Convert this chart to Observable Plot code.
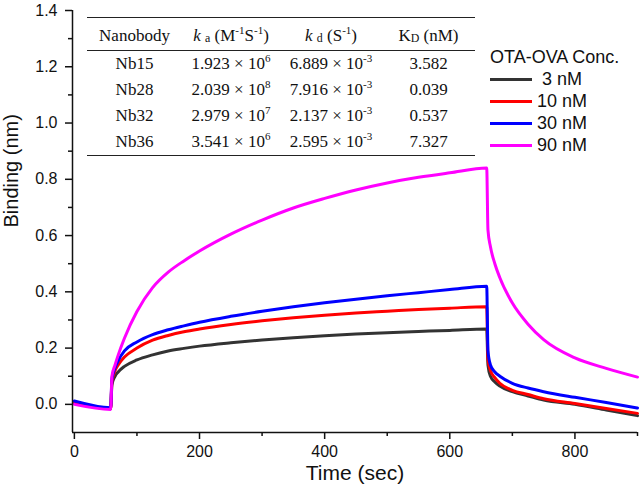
<!DOCTYPE html>
<html><head><meta charset="utf-8">
<script src="https://cdn.jsdelivr.net/npm/d3@7"></script>
<script src="https://cdn.jsdelivr.net/npm/@observablehq/plot@0.6"></script>
<style>
body{margin:0;background:#fff;}
#wrap{position:relative;width:641px;height:490px;font-family:"Liberation Sans",Arial,sans-serif;}
#tbl{position:absolute;left:87px;top:17px;width:388px;border-collapse:collapse;font-family:"Liberation Serif","Times New Roman",serif;font-size:17px;color:#111;table-layout:fixed;}
#tbl th,#tbl td{padding:0;text-align:center;font-weight:normal;white-space:nowrap;}
#tbl thead tr{height:33px;border-top:1.5px solid #222;border-bottom:1.5px solid #222;}
#tbl thead th{padding-top:3px;}
#tbl tbody tr{height:26.25px;}
#tbl tbody tr:last-child{border-bottom:1.5px solid #222;}
#tbl sup{font-size:0.65em;vertical-align:0.6em;line-height:0;}
#tbl sub{font-size:0.7em;vertical-align:-0.1em;line-height:0;}
#legend{position:absolute;left:490px;top:46px;font-size:18px;color:#111;line-height:22px;}
#legend .row{display:flex;align-items:center;height:22px;}
#legend .sw{width:42px;height:3px;margin-right:5px;}
#legend .lab{white-space:pre;}
</style>
</head><body>
<div id="wrap"></div>
<script>
// ---- data ----
const time = [0, 58, 60, 65, 70, 80, 100, 125, 150, 175, 200, 250, 300, 350, 400, 450, 500, 550, 600, 659, 661, 665, 672, 680, 700, 725, 750, 800, 850, 900];
const bind3  = [0.005, -0.015, 0.07, 0.10, 0.115, 0.135, 0.158, 0.176, 0.19, 0.199, 0.207, 0.219, 0.229, 0.237, 0.244, 0.25, 0.255, 0.259, 0.263, 0.268, 0.14, 0.10, 0.08, 0.065, 0.045, 0.03, 0.015, 0.0, -0.02, -0.04];
const bind10 = [0.008, -0.015, 0.08, 0.12, 0.14, 0.168, 0.20, 0.228, 0.245, 0.258, 0.268, 0.284, 0.297, 0.308, 0.317, 0.325, 0.331, 0.337, 0.342, 0.347, 0.16, 0.12, 0.095, 0.075, 0.05, 0.035, 0.02, 0.003, -0.015, -0.032];
const bind30 = [0.012, -0.012, 0.09, 0.13, 0.155, 0.19, 0.222, 0.248, 0.265, 0.279, 0.292, 0.313, 0.331, 0.347, 0.361, 0.374, 0.386, 0.397, 0.408, 0.42, 0.19, 0.14, 0.115, 0.10, 0.075, 0.058, 0.045, 0.025, 0.007, -0.013];
const bind90 = [0.0, -0.018, 0.10, 0.14, 0.175, 0.235, 0.33, 0.415, 0.47, 0.51, 0.545, 0.605, 0.655, 0.698, 0.732, 0.762, 0.787, 0.807, 0.823, 0.84, 0.62, 0.56, 0.50, 0.45, 0.36, 0.285, 0.23, 0.165, 0.128, 0.097];
const conc = ["3 nM", "10 nM", "30 nM", "90 nM"];
const legendTitle = "OTA-OVA Conc.";
const xMajor = [0, 200, 400, 600, 800];
const xMinor = [100, 300, 500, 700, 900];
const yMajor = [0, 0.2, 0.4, 0.6, 0.8, 1.0, 1.2, 1.4];
const yMinor = [0.1, 0.3, 0.5, 0.7, 0.9, 1.1, 1.3];
const nanobody = ["Nb15", "Nb28", "Nb32", "Nb36"];
const kaMant = ["1.923", "2.039", "2.979", "3.541"];
const kaExp = ["6", "8", "7", "6"];
const kdMant = ["6.889", "7.916", "2.137", "2.595"];
const kdExp = ["-3", "-3", "-3", "-3"];
const KD = ["3.582", "0.039", "0.537", "7.327"];

const colors = ["#333333", "#ff0000", "#0000ff", "#ff00ff"];
const series = [bind3, bind10, bind30, bind90];
const rows = conc.flatMap((c, i) => time.map((t, j) => ({t, v: series[i][j], c})));

const font = '"Liberation Sans", Arial, sans-serif';
const chart = Plot.plot({
  width: 641, height: 490,
  marginLeft: 72, marginRight: 4, marginTop: 10, marginBottom: 58,
  x: {domain: [-3, 900], axis: null, label: null},
  y: {domain: [-0.1, 1.4], axis: null, label: null},
  color: {domain: conc, range: colors},
  style: {fontFamily: font, fontSize: "16px", color: "#111", background: "#fff", overflow: "visible"},
  marks: [
    Plot.line(rows, {x: "t", y: "v", z: "c", stroke: "c", strokeWidth: 3, curve: "monotone-x"}),
    Plot.axisX({ticks: xMinor, tickSize: 4, tickFormat: () => "", strokeWidth: 1.5, label: null}),
    Plot.axisX({ticks: xMajor, tickSize: 7, tickPadding: 6, strokeWidth: 1.5, fontSize: 16, label: null}),
    Plot.axisY({ticks: yMinor, tickSize: 4, tickFormat: () => "", strokeWidth: 1.5, label: null}),
    Plot.axisY({ticks: yMajor, tickSize: 7, tickPadding: 8, tickFormat: d3.format(".1f"), strokeWidth: 1.5, fontSize: 16, label: null}),
    Plot.ruleY([-0.1], {strokeWidth: 1.5}),
    Plot.ruleX([-3], {strokeWidth: 1.5}),
    Plot.text(["Binding (nm)"], {text: d => d, frameAnchor: "left", dx: -61, dy: 6, rotate: -90, fontSize: 20}),
    Plot.text(["Time (sec)"], {text: d => d, frameAnchor: "bottom", dy: 47, fontSize: 21})
  ]
});
const wrap = document.getElementById("wrap");
wrap.appendChild(chart);

// table
const tbl = document.createElement("table");
tbl.id = "tbl";
let html = '<colgroup><col style="width:95px"><col style="width:98px"><col style="width:102px"><col style="width:93px"></colgroup>';
html += '<thead><tr><th>Nanobody</th><th><i>k</i> <sub>a</sub> (M<sup>-1</sup>S<sup>-1</sup>)</th><th><i>k</i> <sub>d</sub> (S<sup>-1</sup>)</th><th>K<sub>D</sub> (nM)</th></tr></thead><tbody>';
nanobody.forEach((n, i) => {
  html += `<tr><td>${n}</td><td>${kaMant[i]} × 10<sup>${kaExp[i]}</sup></td><td>${kdMant[i]} × 10<sup>${kdExp[i]}</sup></td><td>${KD[i]}</td></tr>`;
});
html += '</tbody>';
tbl.innerHTML = html;
wrap.appendChild(tbl);

// legend
const lg = document.createElement("div");
lg.id = "legend";
let lh = `<div class="row">${legendTitle}</div>`;
conc.forEach((c, i) => {
  const lab = c.length < 5 ? " " + c : c;
  lh += `<div class="row"><span class="sw" style="background:${colors[i]}"></span><span class="lab">${lab}</span></div>`;
});
lg.innerHTML = lh;
wrap.appendChild(lg);
</script>
</body></html>
